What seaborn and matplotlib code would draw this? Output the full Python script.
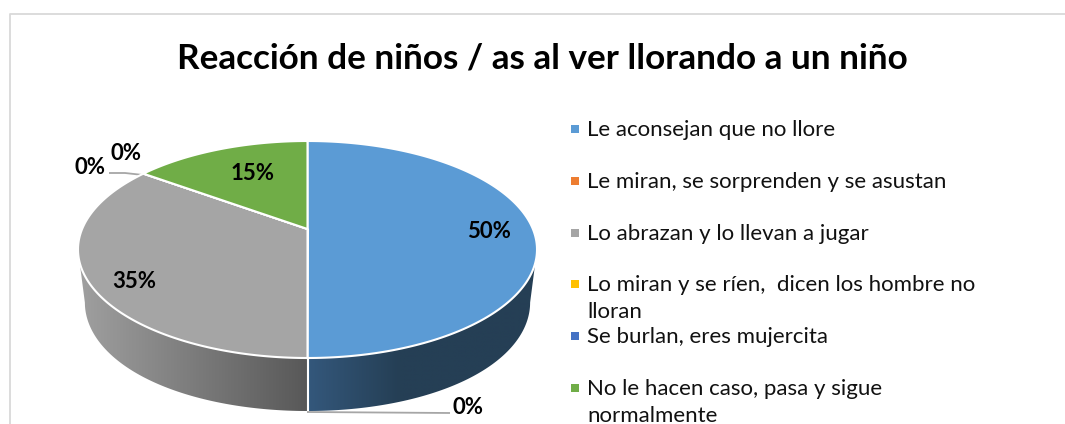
import numpy as np
import matplotlib
matplotlib.use("Agg")
import matplotlib.pyplot as plt
from matplotlib.lines import Line2D
from matplotlib.patches import Rectangle, Polygon
from matplotlib.path import Path
import seaborn as sns

# ---- data ----
title = "Reacción de niños / as al ver llorando a un niño"
categories = [
    "Le aconsejan que no llore",
    "Le miran, se sorprenden y se asustan",
    "Lo abrazan y lo llevan a jugar",
    "Lo miran y se ríen,  dicen los hombre no\nlloran",
    "Se burlan, eres mujercita",
    "No le hacen caso, pasa y sigue\nnormalmente",
]
values = [50, 0, 35, 0, 0, 15]
colors = ["#5B9BD5", "#ED7D31", "#A5A5A5", "#FFC000", "#4472C4", "#70AD47"]

# ---- layout (pixels of the 1065x424 canvas) ----
W, H = 1065, 424
CX, CY, RX, RY = 307.5, 249.5, 229.5, 108.5
DEPTH = 53 / RY
TILT = 0.189            # perspective: the pie's centre sits above the ellipse centre
label_px = [(489, 232), (90, 168), (134, 282), (126, 153), (468, 408), (253, 173)]
legend_rows = [129, 181, 233, 284, 336, 388]

sns.set_theme(style="white")
plt.rcParams["font.family"] = ["Lato", "DejaVu Sans"]
sns.set_palette(colors)

fig = plt.figure(figsize=(W / 100, H / 100), dpi=100, facecolor="white")
ax = fig.add_axes([0, 0, 1, 1])


def warp_point(X, Y):
    d = 1 + TILT * Y
    return X * np.sqrt(1 - TILT ** 2) / d, (Y + TILT) / d


def warp(theta_deg):
    """Unit-circle angle to the perspective view of the pie's top face."""
    t = np.radians(theta_deg)
    return warp_point(np.cos(t), np.sin(t))


wedges, _ = ax.pie(
    values, colors=colors, startangle=90, counterclock=False, radius=1,
    wedgeprops=dict(edgecolor="white", linewidth=1.5, zorder=5),
)


def side_colour(i, x):
    """Colour of the side wall at horizontal position x, for wedge i."""
    if i == 2:      # grey
        v = np.interp(x, [-1, 0], [160, 88]) / 255
        return np.array([v, v, v])
    f = np.interp(x, [0, 0.4, 1], [0, 1, 1])      # blue
    return (np.array([52, 88, 124]) * (1 - f) + np.array([37, 63, 85]) * f) / 255


for i, w in enumerate(wedges):
    a, b = w.theta1, w.theta2
    # top face, warped for perspective
    x, y = warp(np.linspace(a, b, 200))
    apex = warp_point(0.0, 0.0)
    w._path = Path(np.vstack([[apex], np.column_stack([x, y]), [apex]]), closed=True)

    # side wall: the part of the wedge on the visible (lower) rim
    if b - a <= 0:
        continue
    xs, ys = warp(np.linspace(a, b, 800))
    keep = ys <= 0
    if keep.sum() < 2:
        continue
    xs, ys = xs[keep], ys[keep]
    shrink = 1 - 0.03 * (1 - ys ** 2)
    xb, yb = xs * shrink, ys - DEPTH
    poly = Polygon(np.vstack([np.column_stack([xs, ys]),
                              np.column_stack([xb, yb])[::-1]]),
                   closed=True, transform=ax.transData, facecolor="none", edgecolor="none")
    ax.add_patch(poly)
    gx = np.linspace(xs.min(), xs.max(), 256)
    grad = np.array([[side_colour(i, g) for g in gx]])
    im = ax.imshow(grad, extent=[xs.min(), xs.max(), yb.min(), ys.max()],
                   aspect="auto", interpolation="bilinear", zorder=2)
    im.set_clip_path(poly)

ax.set_aspect("auto")
ax.set_xlim(-CX / RX, (W - CX) / RX)
ax.set_ylim((CY - H) / RY, CY / RY)
ax.set_position([0, 0, 1, 1])

# white seam on the wall at the blue / grey boundary
ax.plot([0, 0], [-1, -1 - DEPTH], color="white", lw=1.5, zorder=3)


def px(xp, yp):
    return (xp - CX) / RX, (CY - yp) / RY


# leader lines for the empty slices
lx, ly = zip(px(307, 412), px(450, 413))
ax.plot(lx, ly, color="#A6A6A6", lw=1.3, zorder=4, solid_capstyle="butt")
lx, ly = zip(px(109, 173), px(125, 173), px(143, 175))
ax.plot(lx, ly, color="#A6A6A6", lw=1.3, zorder=4, solid_capstyle="butt")

# data labels
for v, (xp, yp) in zip(values, label_px):
    ax.text(*px(xp, yp), f"{v}%", ha="center", va="center", fontsize=16,
            fontweight="bold", color="black", zorder=6)

# title
fig.text(542 / W, 1 - 59 / H, title, ha="center", va="center", fontsize=25.3,
         fontweight="bold", color="black")

# legend
for name, col, yp in zip(categories, colors, legend_rows):
    fig.add_artist(Rectangle((571 / W, 1 - (yp + 4) / H), 8 / W, 8 / H,
                             transform=fig.transFigure, facecolor=col, edgecolor="none"))
    fig.text(587 / W, 1 - (yp - 9) / H, name, ha="left", va="top", fontsize=16,
             color="#111111", linespacing=1.45)

# chart frame (cropped at right and bottom)
fig.add_artist(Line2D([9.5 / W, 9.5 / W, 1], [0, 1 - 14 / H, 1 - 14 / H],
                      transform=fig.transFigure, color="#D9D9D9", lw=1.3))

fig.savefig("out.png", dpi=100, facecolor="white")
